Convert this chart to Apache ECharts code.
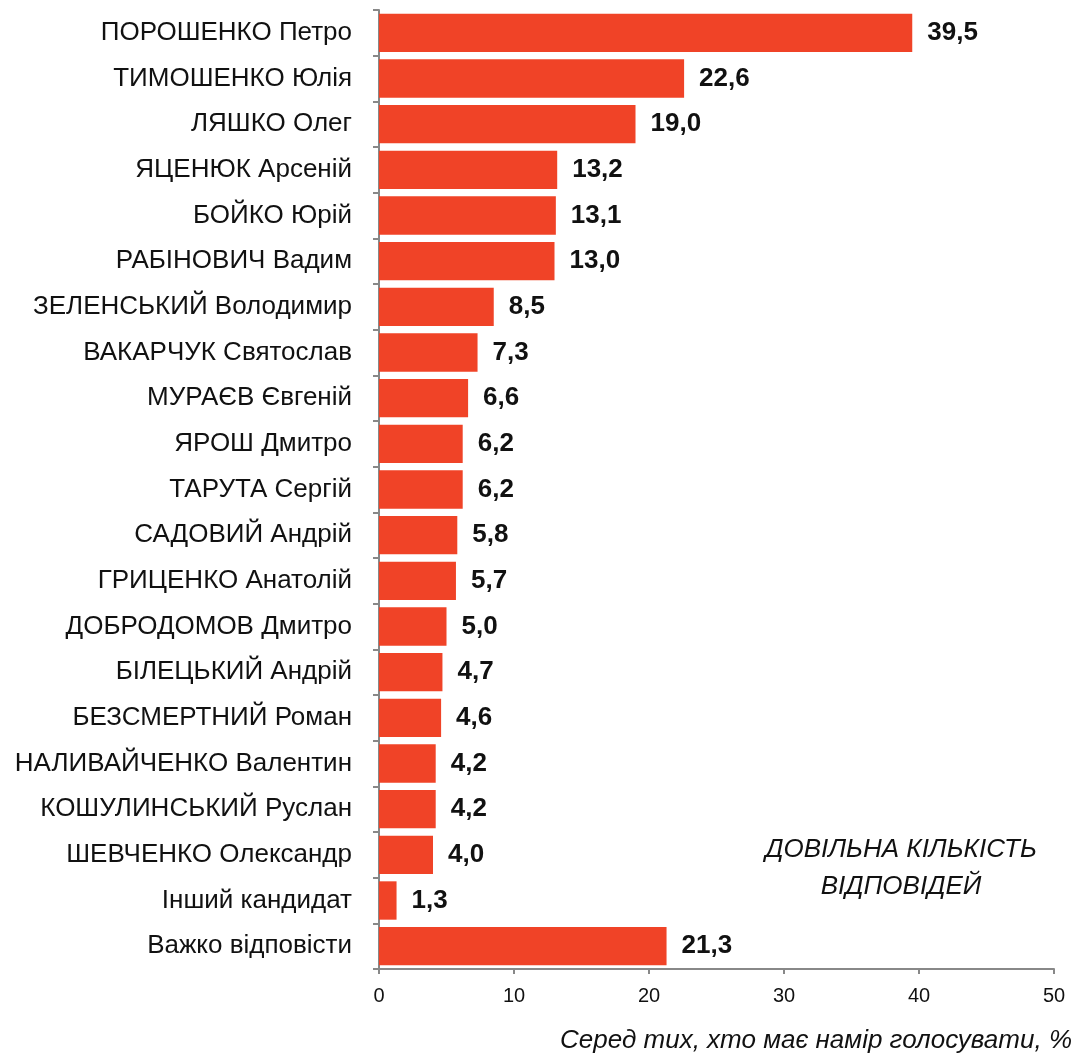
<!DOCTYPE html>
<html><head><meta charset="utf-8">
<script src="https://cdn.jsdelivr.net/npm/echarts@6/dist/echarts.min.js"></script>
<style>html,body{margin:0;padding:0;background:#fff}#c{width:1077px;height:1055px}</style>
</head><body><div id="c"></div>
<script>
const categories = ["ПОРОШЕНКО Петро","ТИМОШЕНКО Юлія","ЛЯШКО Олег","ЯЦЕНЮК Арсеній","БОЙКО Юрій","РАБІНОВИЧ Вадим","ЗЕЛЕНСЬКИЙ Володимир","ВАКАРЧУК Святослав","МУРАЄВ Євгеній","ЯРОШ Дмитро","ТАРУТА Сергій","САДОВИЙ Андрій","ГРИЦЕНКО Анатолій","ДОБРОДОМОВ Дмитро","БІЛЕЦЬКИЙ Андрій","БЕЗСМЕРТНИЙ Роман","НАЛИВАЙЧЕНКО Валентин","КОШУЛИНСЬКИЙ Руслан","ШЕВЧЕНКО Олександр","Інший кандидат","Важко відповісти"];
const values = [39.5,22.6,19.0,13.2,13.1,13.0,8.5,7.3,6.6,6.2,6.2,5.8,5.7,5.0,4.7,4.6,4.2,4.2,4.0,1.3,21.3];
const xTicks = [0,10,20,30,40,50];
const axisTitle = "Серед тих, хто має намір голосувати, %";
const noteLines = ["ДОВІЛЬНА КІЛЬКІСТЬ","ВІДПОВІДЕЙ"];

const font = "'Liberation Sans',Arial,sans-serif";
const chart = echarts.init(document.getElementById('c'));
chart.setOption({
  animation:false,
  grid:{left:379,right:23,top:10,bottom:86},
  xAxis:{type:'value',min:xTicks[0],max:xTicks[xTicks.length-1],interval:10,
    axisLine:{show:true,lineStyle:{color:'#888',width:2}},
    axisTick:{show:true,length:5,lineStyle:{color:'#888',width:2}},
    splitLine:{show:false},
    axisLabel:{color:'#111',fontSize:20,fontFamily:font,margin:17}},
  yAxis:{type:'category',data:categories,inverse:true,
    axisLine:{show:true,lineStyle:{color:'#888',width:2}},
    axisTick:{show:true,length:6,inside:false,lineStyle:{color:'#888',width:2}},
    axisLabel:{color:'#111',fontSize:26,fontFamily:font,margin:27}},
  series:[{type:'bar',data:values,barCategoryGap:'16%',
    itemStyle:{color:'#F04327'},
    label:{show:true,position:'right',distance:15,color:'#111',fontSize:26,fontWeight:'bold',fontFamily:font,
      formatter:p=>p.value.toFixed(1).replace('.',',')}}],
  graphic:[
    {type:'text',x:1072,y:1041,style:{text:axisTitle,fontSize:26,fontStyle:'italic',fontFamily:font,fill:'#111',align:'right',verticalAlign:'middle'}},
    {type:'text',x:901,y:868,style:{text:noteLines.join('\n'),fontSize:26,lineHeight:37,fontStyle:'italic',fontFamily:font,fill:'#111',align:'center',verticalAlign:'middle'}}
  ]
});
</script></body></html>
